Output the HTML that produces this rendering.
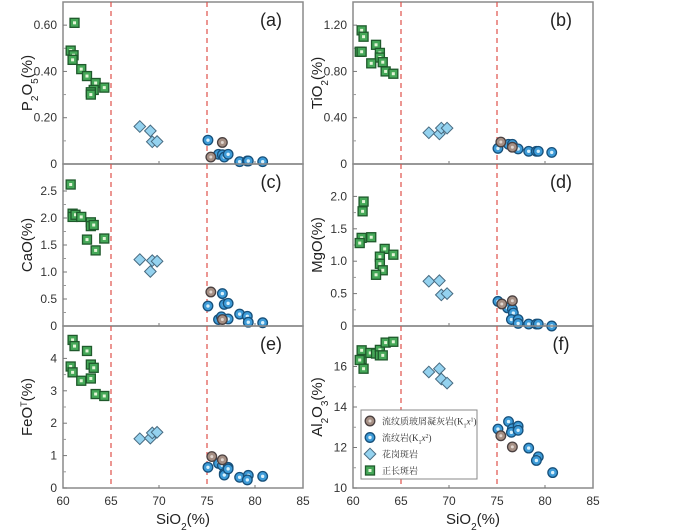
<!DOCTYPE html>
<html><head><meta charset="utf-8"><style>
body{margin:0;background:#fff;}
svg{display:block;font-family:"Liberation Sans",sans-serif;}
</style></head><body>
<svg id="chart" width="700" height="530" viewBox="0 0 700 530"></svg>
<script>
const xTicks=[60,65,70,75,80,85];
const dashedSi=[65,75];
const panelIds=['a','b','c','d','e','f'];
const panelTitles=['P<tspan baseline-shift="sub" font-size="10">2</tspan>O<tspan baseline-shift="sub" font-size="10">5</tspan>(%)','TiO<tspan baseline-shift="sub" font-size="10">2</tspan>(%)','CaO(%)','MgO(%)','FeO<tspan baseline-shift="super" font-size="9">T</tspan>(%)','Al<tspan baseline-shift="sub" font-size="10">2</tspan>O<tspan baseline-shift="sub" font-size="10">3</tspan>(%)'];
const yMin=[0,0,0,0,0,10];
const yMax=[0.7,1.4,3,2.5,5,18];
const yTickVals=[[0,0.2,0.4,0.6],[0,0.4,0.8,1.2],[0,0.5,1,1.5,2,2.5],[0,0.5,1,1.5,2],[0,1,2,3,4],[10,12,14,16]];
const yTickLabels=[['0','0.20','0.40','0.60'],['0','0.40','0.80','1.20'],['0','0.5','1.0','1.5','2.0','2.5'],['0','0.5','1.0','1.5','2.0'],['0','1','2','3','4'],['10','12','14','16']];

const syeSi_a=[61.2,60.8,61.1,61.0,61.9,62.5,63.4,63.2,62.9,62.9,64.3];
const syeV_a=[0.61,0.49,0.47,0.45,0.41,0.38,0.35,0.32,0.31,0.30,0.33];
const graSi_a=[68.0,69.1,69.3,69.8];
const graV_a=[0.162,0.143,0.096,0.097];
const rhySi_a=[75.1,76.2,76.6,76.8,77.2,78.4,79.2,79.3,80.8];
const rhyV_a=[0.103,0.042,0.040,0.030,0.042,0.010,0.013,0.013,0.010];
const tufSi_a=[75.4,76.6];
const tufV_a=[0.030,0.093];

const syeSi_b=[60.9,61.1,60.7,60.9,62.4,62.8,62.8,63.1,61.9,63.4,64.2];
const syeV_b=[1.155,1.10,0.97,0.97,1.03,0.96,0.92,0.88,0.87,0.80,0.78];
const graSi_b=[67.9,69.0,69.2,69.8];
const graV_b=[0.27,0.26,0.31,0.31];
const rhySi_b=[75.1,76.2,76.6,77.2,78.3,79.1,79.3,80.7];
const rhyV_b=[0.135,0.17,0.17,0.13,0.11,0.11,0.11,0.10];
const tufSi_b=[75.4,76.6];
const tufV_b=[0.19,0.145];

const syeSi_c=[60.8,61.0,61.0,61.3,61.9,62.9,62.9,63.2,62.5,63.4,64.3];
const syeV_c=[2.62,2.08,2.02,2.06,2.02,1.92,1.85,1.87,1.60,1.40,1.62];
const graSi_c=[68.0,69.1,69.3,69.8];
const graV_c=[1.23,1.01,1.21,1.20];
const rhySi_c=[75.1,76.6,76.8,77.2,76.2,76.5,77.2,78.4,79.2,79.3,80.8];
const rhyV_c=[0.37,0.60,0.40,0.42,0.12,0.17,0.13,0.22,0.18,0.07,0.06];
const tufSi_c=[75.4,76.6];
const tufV_c=[0.63,0.12];

const syeSi_d=[61.1,61.0,60.9,60.7,61.9,63.3,64.2,62.8,62.8,63.1,62.4];
const syeV_d=[1.92,1.77,1.36,1.28,1.37,1.19,1.10,1.07,0.96,0.86,0.79];
const graSi_d=[67.9,69.0,69.2,69.8];
const graV_d=[0.69,0.70,0.48,0.50];
const rhySi_d=[75.1,76.1,76.6,76.7,76.5,77.2,77.2,78.3,79.1,79.3,80.7];
const rhyV_d=[0.38,0.28,0.26,0.20,0.10,0.10,0.04,0.03,0.03,0.03,0.00];
const tufSi_d=[75.5,76.6];
const tufV_d=[0.34,0.39];

const syeSi_e=[61.0,61.2,62.5,60.8,61.0,62.9,63.2,61.9,62.9,63.4,64.3];
const syeV_e=[4.57,4.38,4.23,3.75,3.57,3.81,3.71,3.31,3.38,2.90,2.84];
const graSi_e=[68.0,69.1,69.3,69.8];
const graV_e=[1.52,1.54,1.70,1.72];
const rhySi_e=[75.1,76.2,76.6,76.8,76.8,77.2,77.2,78.4,79.3,79.2,80.8];
const rhyV_e=[0.64,0.76,0.70,0.45,0.40,0.64,0.59,0.33,0.39,0.25,0.36];
const tufSi_e=[75.5,76.6];
const tufV_e=[0.97,0.87];

const syeSi_f=[60.9,60.9,60.7,61.1,61.8,62.4,62.8,62.8,63.1,63.4,64.2];
const syeV_f=[16.8,16.37,16.32,15.89,16.67,16.64,16.82,16.55,16.55,17.18,17.22];
const graSi_f=[67.9,69.0,69.2,69.8];
const graV_f=[15.73,15.89,15.38,15.18];
const rhySi_f=[75.1,76.2,76.6,76.5,77.2,77.2,78.3,79.3,79.1,80.8];
const rhyV_f=[12.91,13.28,12.93,12.75,13.05,12.85,11.97,11.54,11.36,10.76];
const tufSi_f=[75.4,76.6];
const tufV_f=[12.58,12.03];

const seriesSi={a:[syeSi_a,graSi_a,rhySi_a,tufSi_a],b:[syeSi_b,graSi_b,rhySi_b,tufSi_b],c:[syeSi_c,graSi_c,rhySi_c,tufSi_c],d:[syeSi_d,graSi_d,rhySi_d,tufSi_d],e:[syeSi_e,graSi_e,rhySi_e,tufSi_e],f:[syeSi_f,graSi_f,rhySi_f,tufSi_f]};
const seriesV={a:[syeV_a,graV_a,rhyV_a,tufV_a],b:[syeV_b,graV_b,rhyV_b,tufV_b],c:[syeV_c,graV_c,rhyV_c,tufV_c],d:[syeV_d,graV_d,rhyV_d,tufV_d],e:[syeV_e,graV_e,rhyV_e,tufV_e],f:[syeV_f,graV_f,rhyV_f,tufV_f]};
const seriesNames=['syenite-porphyry','granite-porphyry','rhyolite','rhyolitic-tuff'];

const svg=document.getElementById('chart');
const NS='http://www.w3.org/2000/svg';
function mk(tag,attrs,parent){const e=document.createElementNS(NS,tag);for(const k in attrs)e.setAttribute(k,attrs[k]);(parent||svg).appendChild(e);return e;}

function marker(kind,cx,cy,g){
  if(kind===0){
    mk('rect',{x:cx-4.5,y:cy-4.5,width:9,height:9,fill:'#45a858',stroke:'#1f5a2c','stroke-width':1.3},g);
    mk('rect',{x:cx-1.5,y:cy-1.5,width:3,height:3,fill:'#e4f5d8'},g);
  }else if(kind===1){
    mk('polygon',{points:`${cx},${cy-5.8} ${cx+5.8},${cy} ${cx},${cy+5.8} ${cx-5.8},${cy}`,fill:'#94d2ef',stroke:'#476a80','stroke-width':1},g);
  }else if(kind===2){
    mk('circle',{cx:cx,cy:cy,r:4.8,fill:'#3d9bd8',stroke:'#17507a','stroke-width':1.3},g);
    mk('circle',{cx:cx,cy:cy,r:1.7,fill:'#d8f0fb'},g);
  }else{
    mk('circle',{cx:cx,cy:cy,r:4.8,fill:'#a58f84',stroke:'#4a4040','stroke-width':1.3},g);
    mk('circle',{cx:cx,cy:cy,r:1.5,fill:'#e0d6d0'},g);
  }
}

const colLeft=[63,353], colW=240, rowTop=[2,164,326], rowH=162;
panelIds.forEach((id,i)=>{
  const col=i%2,row=Math.floor(i/2);
  const L=colLeft[col],T=rowTop[row],B=T+rowH,R=L+colW;
  const xs=v=>L+(v-60)/25*colW;
  const ys=v=>B-(v-yMin[i])/(yMax[i]-yMin[i])*rowH;
  const g=mk('g',{});
  
  
  mk('rect',{x:L,y:T,width:colW,height:rowH,fill:'none',stroke:'#8a8a8a','stroke-width':1.5},g);
  dashedSi.forEach(v=>{const l=mk('line',{x1:xs(v),x2:xs(v),y1:T,y2:B,stroke:'#e0504a','stroke-width':1.2,'stroke-dasharray':'5,4'},g);
    
    });
  [70,80].forEach(v=>mk('line',{x1:xs(v),x2:xs(v),y1:B,y2:B-3,stroke:'#777','stroke-width':1},g));
  yTickVals[i].forEach((v,k)=>{
    const y=ys(v);
    mk('line',{x1:L,x2:L+4,y1:y,y2:y,stroke:'#777','stroke-width':1},g);
    if(k<yTickVals[i].length-1){const ym=ys((v+yTickVals[i][k+1])/2);mk('line',{x1:L,x2:L+3,y1:ym,y2:ym,stroke:'#999','stroke-width':1},g);}
    const t=mk('text',{x:L-6,y:y+4,'text-anchor':'end','font-size':12,fill:'#333'},g);
    t.textContent=yTickLabels[i][k];
    
    
  });
  const lab=mk('text',{x:R-32,y:T+24,'font-size':18,fill:'#222','text-anchor':'middle'},g);
  lab.textContent='('+id+')';
  
  
  const tx=col===0?32:322, ty=T+rowH/2;
  const yt=mk('text',{x:tx,y:ty,'font-size':15,fill:'#222','text-anchor':'middle',transform:`rotate(-90 ${tx} ${ty})`},g);
  yt.innerHTML=panelTitles[i];
  
  
  if(row===2){
    xTicks.forEach(v=>{const t=mk('text',{x:xs(v),y:B+17,'text-anchor':'middle','font-size':12,fill:'#333'},g);t.textContent=v;
      
      });
    const xt=mk('text',{x:L+colW/2,y:524,'text-anchor':'middle','font-size':15,fill:'#222'},g);
    xt.innerHTML='SiO<tspan baseline-shift="sub" font-size="10">2</tspan>(%)';
    
    
  }
  seriesSi[id].forEach((arr,s)=>{
    const sg=mk('g',{},g);
    
    
    arr.forEach((x,k)=>marker(s,xs(x),ys(seriesV[id][s][k]),sg));
  });
});

const lg=mk('g',{});


mk('rect',{x:361,y:410,width:116,height:69,fill:'#fff',stroke:'#888','stroke-width':1},lg);
const legText=['流纹质玻屑凝灰岩(K<tspan baseline-shift="sub" font-size="6">1</tspan><tspan font-style="italic">x</tspan><tspan baseline-shift="super" font-size="6">1</tspan>)','流纹岩(K<tspan baseline-shift="sub" font-size="6">1</tspan><tspan font-style="italic">x</tspan><tspan baseline-shift="super" font-size="6">2</tspan>)','花岗斑岩','正长斑岩'];
const legKind=[3,2,1,0];
legText.forEach((t,k)=>{
  const y=421+k*16.5;
  const eg=mk('g',{},lg);
  
  
  marker(legKind[k],370,y,eg);
  const tt=mk('text',{x:382,y:y+3.5,'font-size':9,fill:'#333','font-family':'"Liberation Serif","Noto Serif CJK SC",serif'},eg);
  tt.innerHTML=t;
});
</script>
</body></html>
